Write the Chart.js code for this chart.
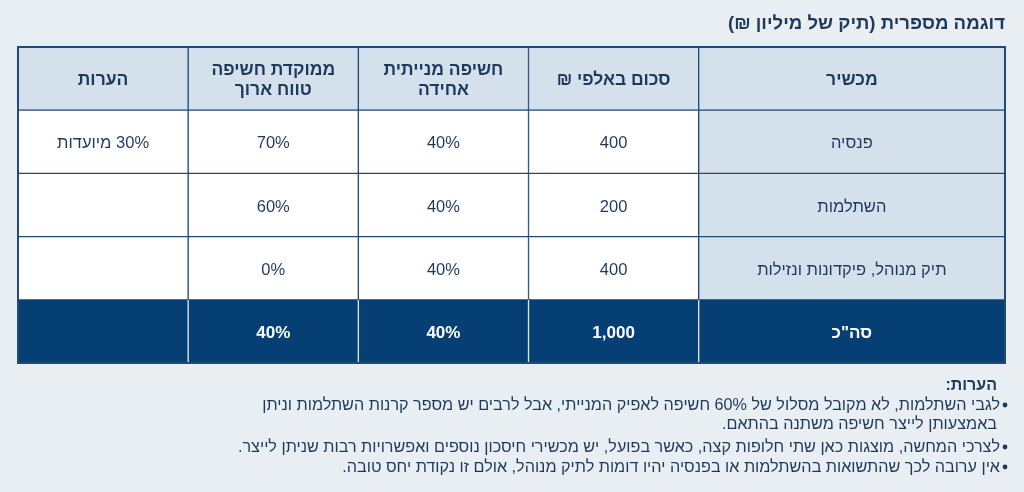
<!DOCTYPE html>
<html lang="he" dir="rtl">
<head>
<meta charset="utf-8">
<script src="https://cdn.jsdelivr.net/npm/chart.js@4.4.1/dist/chart.umd.min.js"></script>
<style>
  html, body { margin:0; padding:0; background:#e9eef2; }
  #wrap { position:relative; width:1024px; height:492px; }
</style>
</head>
<body>
<div id="wrap"><canvas id="tableChart"></canvas></div>
<script>
// table content
const title = "דוגמה מספרית (תיק של מיליון ₪)";
const headers = ["מכשיר", "סכום באלפי ₪", "חשיפה מנייתית\nאחידה", "ממוקדת חשיפה\nטווח ארוך", "הערות"];
const instruments = ["פנסיה", "השתלמות", "תיק מנוהל, פיקדונות ונזילות"];
const amounts = [400, 200, 400];          // thousands ₪
const equityExposure = [40, 40, 40];      // %
const longTermExposure = [70, 60, 0];     // %
const remarks = ["30% מיועדות", "", ""];
const totalLabel = "סה\"כ";
const notesTitle = "הערות:";
const notes = [
  ["לגבי השתלמות, לא מקובל מסלול של 60% חשיפה לאפיק המנייתי, אבל לרבים יש מספר קרנות השתלמות וניתן",
   "באמצעותן לייצר חשיפה משתנה בהתאם."],
  ["לצרכי המחשה, מוצגות כאן שתי חלופות קצה, כאשר בפועל, יש מכשירי חיסכון נוספים ואפשרויות רבות שניתן לייצר."],
  ["אין ערובה לכך שהתשואות בהשתלמות או בפנסיה יהיו דומות לתיק מנוהל, אולם זו נקודת יחס טובה."]
];

// column widths in scale units (first column is wider), right to left
const colUnits = [1.8, 1, 1, 1, 1];

const navy = "#053f74";
const lineNavy = "#1f4b76";
const headFill = "#d4e0eb";
const textColor = "#1d3a5a";
const FONT = "'Liberation Sans', 'DejaVu Sans', sans-serif";

const totalAmount = amounts.reduce((a, b) => a + b, 0);
const wAvg = arr => Math.round(arr.reduce((s, v, i) => s + v * amounts[i], 0) / totalAmount);

const rowKeys = ["head"].concat(instruments, ["total"]);
const cellText = [
  headers,
  ...instruments.map((n, i) => [n, String(amounts[i]), equityExposure[i] + "%", longTermExposure[i] + "%", remarks[i]]),
  [totalLabel, totalAmount.toLocaleString("en-US"), wAvg(equityExposure) + "%", wAvg(longTermExposure) + "%", ""]
];

let edges = [0];
colUnits.forEach(u => edges.push(edges[edges.length - 1] + u));

function fillFor(row, col){
  if(row === 0) return headFill;
  if(row === rowKeys.length - 1) return navy;
  return col === 0 ? headFill : "#ffffff";
}

const datasets = colUnits.map((u, c) => ({
  label: "col" + c,
  data: rowKeys.map(() => [edges[c], edges[c + 1]]),
  backgroundColor: rowKeys.map((_, r) => fillFor(r, c)),
  borderColor: rowKeys.map((_, r) => r === rowKeys.length - 1 ? "#dfe7ef" : lineNavy),
  borderWidth: ctx => ctx.dataIndex === rowKeys.length - 1
    ? {left:1, right:1, top:0, bottom:0}
    : 1,
  borderSkipped: false,
  barPercentage: 1,
  categoryPercentage: 1,
  grouped: false
}));

const cellTextPlugin = {
  id: "cellText",
  afterDatasetsDraw(chart){
    const ctx = chart.ctx;
    const area = chart.chartArea;
    ctx.save();
    ctx.direction = "rtl";
    ctx.textAlign = "center";
    ctx.textBaseline = "middle";
    colUnits.forEach((u, c) => {
      const meta = chart.getDatasetMeta(c);
      meta.data.forEach((el, r) => {
        const txt = cellText[r][c];
        if(!txt) return;
        const cx = (el.x + el.base) / 2;
        const last = r === rowKeys.length - 1;
        if(r === 0){
          ctx.font = "bold 17.5px " + FONT;
          ctx.fillStyle = textColor;
        } else if(last){
          ctx.font = "bold 17px " + FONT;
          ctx.fillStyle = "#ffffff";
        } else {
          ctx.font = "16.5px " + FONT;
          ctx.fillStyle = textColor;
        }
        const lines = txt.split("\n");
        const lh = 20;
        lines.forEach((ln, k) => {
          ctx.fillText(ln, cx, el.y + 2 + (k - (lines.length - 1) / 2) * lh);
        });
      });
    });
    // outer frame
    ctx.strokeStyle = lineNavy;
    ctx.lineWidth = 2;
    ctx.strokeRect(area.left, area.top, area.right - area.left, area.bottom - area.top);
    ctx.restore();
  },
  afterDraw(chart){
    const ctx = chart.ctx;
    const area = chart.chartArea;
    ctx.save();
    ctx.direction = "rtl";
    ctx.textAlign = "right";
    ctx.textBaseline = "middle";
    ctx.fillStyle = textColor;
    ctx.font = "bold 18.6px " + FONT;
    ctx.fillText(title, area.right, 24);

    ctx.font = "bold 16px " + FONT;
    ctx.fillText(notesTitle, 997, 386);
    ctx.font = "16.2px " + FONT;
    const rowsY = [406, 425, 448, 468];
    let n = 0;
    notes.forEach(item => {
      item.forEach((ln, k) => {
        const y = rowsY[n++];
        if(k === 0){
          ctx.beginPath();
          ctx.arc(1005, y - 1, 2.4, 0, Math.PI * 2);
          ctx.fill();
          ctx.fillText(ln, 1000, y);
        } else {
          ctx.fillText(ln, 997, y);
        }
      });
    });
    ctx.restore();
  }
};

const tableChart = new Chart(document.getElementById("tableChart"), {
  type: "bar",
  data: { labels: rowKeys, datasets: datasets },
  options: {
    indexAxis: "y",
    responsive: true,
    maintainAspectRatio: false,
    animation: false,
    layout: { padding: { left: 18, right: 19, top: 47, bottom: 129 } },
    plugins: { legend: { display: false }, tooltip: { enabled: false } },
    scales: {
      x: { type: "linear", reverse: true, min: 0, max: edges[edges.length - 1], display: false },
      y: { type: "category", display: false, stacked: true }
    }
  },
  plugins: [cellTextPlugin]
});
</script>
</body>
</html>
